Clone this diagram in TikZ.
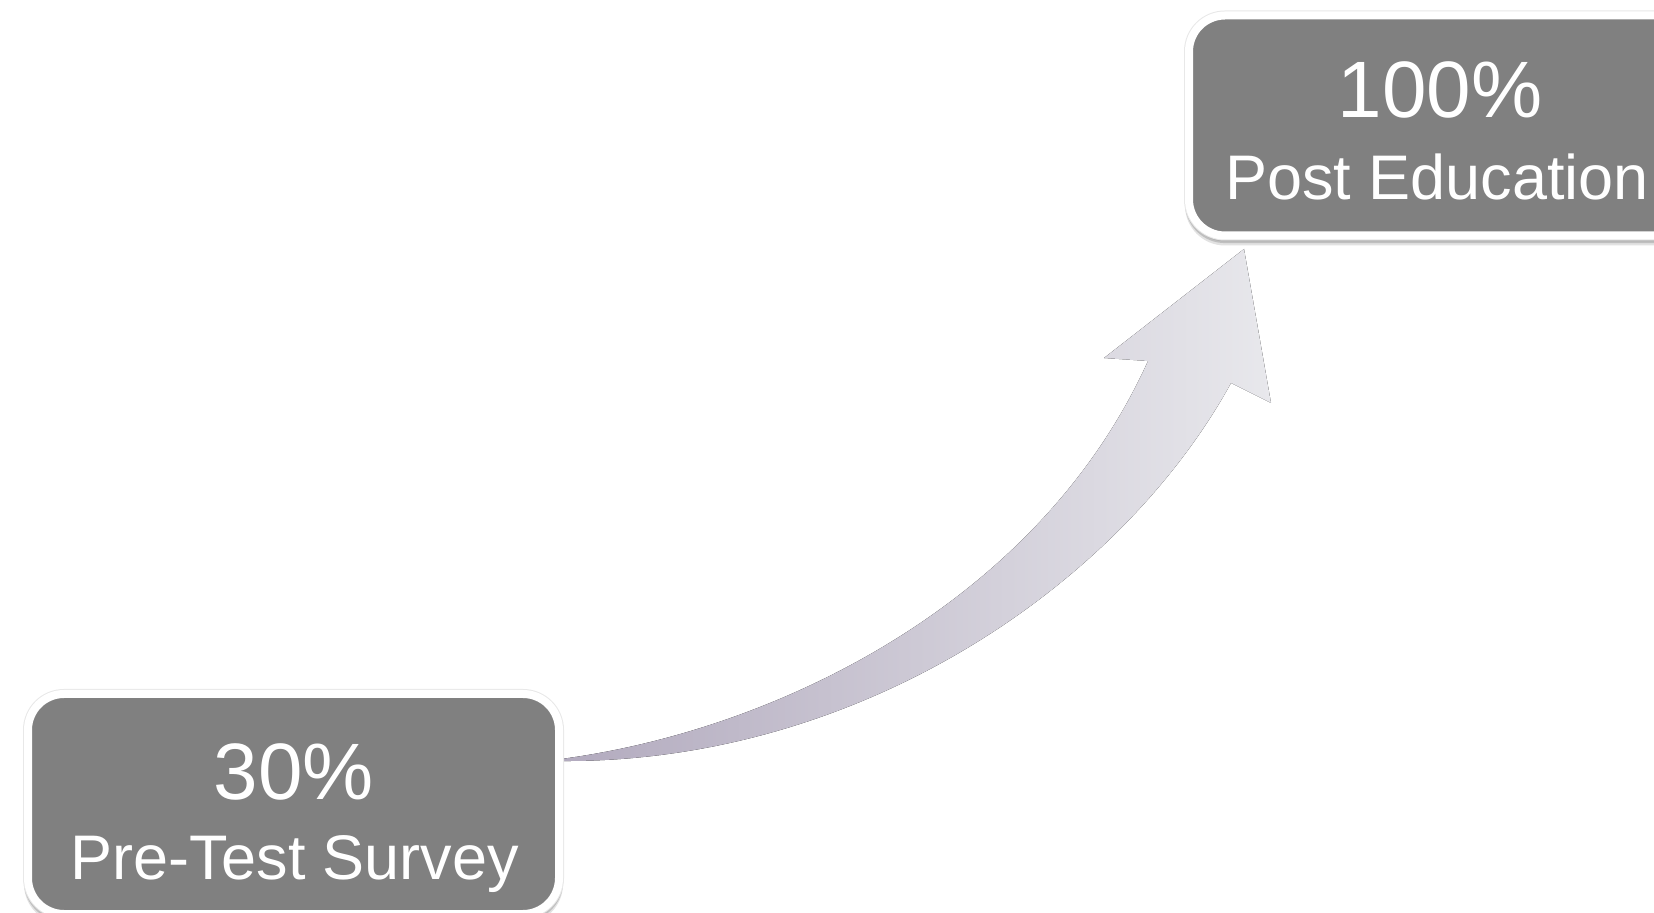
\documentclass[tikz,border=0pt]{standalone}
\usepackage{fontspec}
\setmainfont{Liberation Sans}
\definecolor{boxgray}{RGB}{128,128,128}
\definecolor{arrowL}{RGB}{178,170,190}
\definecolor{arrowR}{RGB}{232,232,236}
\definecolor{edgegray}{RGB}{232,232,232}
\definecolor{shadowgray}{RGB}{140,140,140}
\begin{document}
\begin{tikzpicture}[x=0.5pt,y=-0.5pt,
  stagebox/.style={rectangle, rounded corners=18pt, minimum width=265.5pt, minimum height=110pt,
    inner sep=0pt, fill=boxgray, draw=white, line width=4pt,
    preaction={draw=shadowgray, fill=shadowgray, line width=4pt, opacity=0.25, transform canvas={yshift=-3pt}},
    preaction={draw=shadowgray, fill=shadowgray, line width=4pt, opacity=0.4, transform canvas={yshift=-1.8pt}},
    preaction={draw=edgegray, line width=5pt}},
  bigtxt/.style={anchor=base, inner sep=0pt, text=white, font=\fontsize{40}{48}\selectfont},
  smalltxt/.style={anchor=base, inner sep=0pt, text=white, font=\fontsize{31.5}{38}\selectfont}]
\useasboundingbox (0,0) rectangle (1654,913);
\fill[white] (0,0) rectangle (1654,913);
% arrow
\coordinate (tailU) at (561,759);
\coordinate (tailL) at (561,761);
\coordinate (neckL) at (1148,361);
\coordinate (barbL) at (1104,358);
\coordinate (tip) at (1244,249);
\coordinate (barbR) at (1271,403);
\coordinate (neckR) at (1231,383);
\fill[left color=arrowL, right color=arrowR]
  (tailU) .. controls (780,730) and (1040,600) .. (neckL) -- (barbL) -- (tip) -- (barbR) -- (neckR)
  .. controls (1120,585) and (860,763) .. (tailL) -- cycle;
% boxes
\node[stagebox] (pre) at (293.5,804) {};
\node[stagebox] (post) at (1454.5,125.5) {};
\node[bigtxt] (preP) at (294,799) {30\%};
\node[smalltxt] (preT) at (295,879) {Pre-Test Survey};
\node[bigtxt] (postP) at (1440,118) {100\%};
\node[smalltxt] (postT) at (1437,200) {Post Education};
\end{tikzpicture}
\end{document}
